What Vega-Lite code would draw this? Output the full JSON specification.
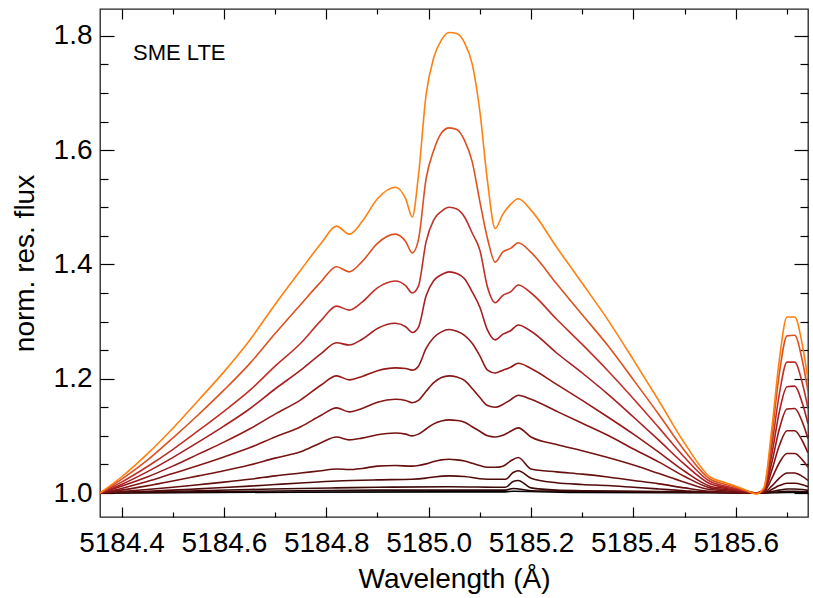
{
"$schema":"https://vega.github.io/schema/vega-lite/v6.json",
"width":708,"height":508,
"autosize":{"type":"none"},
"padding":{"left":100,"top":9,"right":5,"bottom":81},
"background":"white",
"config":{"view":{"stroke":"#222","strokeWidth":1.3},"font":"Liberation Sans"},
"layer":[
{"data":{"values":[
{"curve":1,"wl":5184.358,"flux":1.000},{"curve":1,"wl":5184.75,"flux":1.0015},{"curve":1,"wl":5185.04,"flux":1.002},{"curve":1,"wl":5185.15,"flux":1.002},{"curve":1,"wl":5185.165,"flux":1.003},{"curve":1,"wl":5185.30,"flux":1.001},{"curve":1,"wl":5185.64,"flux":1.000},{"curve":1,"wl":5185.70,"flux":1.001},{"curve":1,"wl":5185.741,"flux":1.001},
{"curve":2,"wl":5184.358,"flux":1.000},{"curve":2,"wl":5184.55,"flux":1.002},{"curve":2,"wl":5184.75,"flux":1.004},{"curve":2,"wl":5184.90,"flux":1.005},{"curve":2,"wl":5185.04,"flux":1.005},{"curve":2,"wl":5185.15,"flux":1.005},{"curve":2,"wl":5185.165,"flux":1.008},{"curve":2,"wl":5185.20,"flux":1.004},{"curve":2,"wl":5185.30,"flux":1.003},{"curve":2,"wl":5185.45,"flux":1.002},{"curve":2,"wl":5185.60,"flux":1.001},{"curve":2,"wl":5185.64,"flux":1.000},{"curve":2,"wl":5185.67,"flux":1.001},{"curve":2,"wl":5185.685,"flux":1.002},{"curve":2,"wl":5185.70,"flux":1.003},{"curve":2,"wl":5185.715,"flux":1.003},{"curve":2,"wl":5185.741,"flux":1.002},
{"curve":3,"wl":5184.358,"flux":1.000},{"curve":3,"wl":5184.45,"flux":1.002},{"curve":3,"wl":5184.55,"flux":1.004},{"curve":3,"wl":5184.65,"flux":1.006},{"curve":3,"wl":5184.75,"flux":1.008},{"curve":3,"wl":5184.82,"flux":1.009},{"curve":3,"wl":5184.90,"flux":1.010},{"curve":3,"wl":5185.04,"flux":1.011},{"curve":3,"wl":5185.15,"flux":1.010},{"curve":3,"wl":5185.165,"flux":1.020},{"curve":3,"wl":5185.175,"flux":1.022},{"curve":3,"wl":5185.20,"flux":1.009},{"curve":3,"wl":5185.25,"flux":1.005},{"curve":3,"wl":5185.30,"flux":1.004},{"curve":3,"wl":5185.40,"flux":1.003},{"curve":3,"wl":5185.50,"flux":1.002},{"curve":3,"wl":5185.60,"flux":1.001},{"curve":3,"wl":5185.64,"flux":1.000},{"curve":3,"wl":5185.67,"flux":1.0025},{"curve":3,"wl":5185.685,"flux":1.005},{"curve":3,"wl":5185.70,"flux":1.007},{"curve":3,"wl":5185.715,"flux":1.007},{"curve":3,"wl":5185.73,"flux":1.006},{"curve":3,"wl":5185.741,"flux":1.0045},
{"curve":4,"wl":5184.358,"flux":1.000},{"curve":4,"wl":5184.45,"flux":1.003},{"curve":4,"wl":5184.50,"flux":1.005},{"curve":4,"wl":5184.55,"flux":1.0073},{"curve":4,"wl":5184.60,"flux":1.0095},{"curve":4,"wl":5184.65,"flux":1.012},{"curve":4,"wl":5184.70,"flux":1.0148},{"curve":4,"wl":5184.75,"flux":1.0175},{"curve":4,"wl":5184.82,"flux":1.021},{"curve":4,"wl":5184.90,"flux":1.023},{"curve":4,"wl":5184.968,"flux":1.024},{"curve":4,"wl":5184.995,"flux":1.026},{"curve":4,"wl":5185.01,"flux":1.028},{"curve":4,"wl":5185.04,"flux":1.030},{"curve":4,"wl":5185.07,"flux":1.029},{"curve":4,"wl":5185.10,"flux":1.025},{"curve":4,"wl":5185.13,"flux":1.024},{"curve":4,"wl":5185.15,"flux":1.024},{"curve":4,"wl":5185.165,"flux":1.036},{"curve":4,"wl":5185.175,"flux":1.039},{"curve":4,"wl":5185.20,"flux":1.026},{"curve":4,"wl":5185.25,"flux":1.018},{"curve":4,"wl":5185.30,"flux":1.015},{"curve":4,"wl":5185.35,"flux":1.013},{"curve":4,"wl":5185.40,"flux":1.010},{"curve":4,"wl":5185.45,"flux":1.007},{"curve":4,"wl":5185.50,"flux":1.004},{"curve":4,"wl":5185.55,"flux":1.0015},{"curve":4,"wl":5185.64,"flux":1.000},{"curve":4,"wl":5185.655,"flux":1.0005},{"curve":4,"wl":5185.67,"flux":1.006},{"curve":4,"wl":5185.685,"flux":1.013},{"curve":4,"wl":5185.70,"flux":1.017},{"curve":4,"wl":5185.715,"flux":1.017},{"curve":4,"wl":5185.73,"flux":1.0145},{"curve":4,"wl":5185.741,"flux":1.011},
{"curve":5,"wl":5184.358,"flux":1.000},{"curve":5,"wl":5184.40,"flux":1.0025},{"curve":5,"wl":5184.45,"flux":1.006},{"curve":5,"wl":5184.50,"flux":1.010},{"curve":5,"wl":5184.55,"flux":1.0145},{"curve":5,"wl":5184.60,"flux":1.019},{"curve":5,"wl":5184.65,"flux":1.024},{"curve":5,"wl":5184.70,"flux":1.030},{"curve":5,"wl":5184.75,"flux":1.035},{"curve":5,"wl":5184.79,"flux":1.039},{"curve":5,"wl":5184.82,"flux":1.042},{"curve":5,"wl":5184.845,"flux":1.041},{"curve":5,"wl":5184.87,"flux":1.043},{"curve":5,"wl":5184.90,"flux":1.047},{"curve":5,"wl":5184.935,"flux":1.048},{"curve":5,"wl":5184.968,"flux":1.047},{"curve":5,"wl":5184.98,"flux":1.048},{"curve":5,"wl":5184.995,"flux":1.051},{"curve":5,"wl":5185.01,"flux":1.055},{"curve":5,"wl":5185.025,"flux":1.058},{"curve":5,"wl":5185.04,"flux":1.059},{"curve":5,"wl":5185.055,"flux":1.058},{"curve":5,"wl":5185.07,"flux":1.056},{"curve":5,"wl":5185.085,"flux":1.052},{"curve":5,"wl":5185.10,"flux":1.048},{"curve":5,"wl":5185.115,"flux":1.045},{"curve":5,"wl":5185.13,"flux":1.045},{"curve":5,"wl":5185.145,"flux":1.047},{"curve":5,"wl":5185.16,"flux":1.056},{"curve":5,"wl":5185.175,"flux":1.062},{"curve":5,"wl":5185.20,"flux":1.042},{"curve":5,"wl":5185.25,"flux":1.037},{"curve":5,"wl":5185.30,"flux":1.033},{"curve":5,"wl":5185.35,"flux":1.028},{"curve":5,"wl":5185.40,"flux":1.022},{"curve":5,"wl":5185.45,"flux":1.016},{"curve":5,"wl":5185.50,"flux":1.009},{"curve":5,"wl":5185.55,"flux":1.003},{"curve":5,"wl":5185.60,"flux":1.001},{"curve":5,"wl":5185.64,"flux":1.000},{"curve":5,"wl":5185.655,"flux":1.001},{"curve":5,"wl":5185.67,"flux":1.012},{"curve":5,"wl":5185.685,"flux":1.026},{"curve":5,"wl":5185.70,"flux":1.035},{"curve":5,"wl":5185.715,"flux":1.035},{"curve":5,"wl":5185.73,"flux":1.029},{"curve":5,"wl":5185.741,"flux":1.022},
{"curve":6,"wl":5184.358,"flux":1.000},{"curve":6,"wl":5184.40,"flux":1.005},{"curve":6,"wl":5184.45,"flux":1.0125},{"curve":6,"wl":5184.50,"flux":1.021},{"curve":6,"wl":5184.55,"flux":1.030},{"curve":6,"wl":5184.60,"flux":1.039},{"curve":6,"wl":5184.65,"flux":1.049},{"curve":6,"wl":5184.70,"flux":1.061},{"curve":6,"wl":5184.75,"flux":1.072},{"curve":6,"wl":5184.79,"flux":1.088},{"curve":6,"wl":5184.82,"flux":1.098},{"curve":6,"wl":5184.845,"flux":1.093},{"curve":6,"wl":5184.87,"flux":1.096},{"curve":6,"wl":5184.90,"flux":1.102},{"curve":6,"wl":5184.935,"flux":1.105},{"curve":6,"wl":5184.955,"flux":1.103},{"curve":6,"wl":5184.968,"flux":1.100},{"curve":6,"wl":5184.98,"flux":1.103},{"curve":6,"wl":5184.995,"flux":1.112},{"curve":6,"wl":5185.01,"flux":1.121},{"curve":6,"wl":5185.025,"flux":1.126},{"curve":6,"wl":5185.04,"flux":1.128},{"curve":6,"wl":5185.055,"flux":1.127},{"curve":6,"wl":5185.07,"flux":1.124},{"curve":6,"wl":5185.085,"flux":1.116},{"curve":6,"wl":5185.10,"flux":1.108},{"curve":6,"wl":5185.115,"flux":1.100},{"curve":6,"wl":5185.13,"flux":1.098},{"curve":6,"wl":5185.145,"flux":1.101},{"curve":6,"wl":5185.16,"flux":1.108},{"curve":6,"wl":5185.175,"flux":1.114},{"curve":6,"wl":5185.20,"flux":1.098},{"curve":6,"wl":5185.25,"flux":1.085},{"curve":6,"wl":5185.30,"flux":1.074},{"curve":6,"wl":5185.35,"flux":1.062},{"curve":6,"wl":5185.40,"flux":1.049},{"curve":6,"wl":5185.45,"flux":1.034},{"curve":6,"wl":5185.50,"flux":1.019},{"curve":6,"wl":5185.55,"flux":1.006},{"curve":6,"wl":5185.58,"flux":1.004},{"curve":6,"wl":5185.60,"flux":1.003},{"curve":6,"wl":5185.62,"flux":1.001},{"curve":6,"wl":5185.64,"flux":1.000},{"curve":6,"wl":5185.655,"flux":1.002},{"curve":6,"wl":5185.67,"flux":1.025},{"curve":6,"wl":5185.685,"flux":1.053},{"curve":6,"wl":5185.70,"flux":1.069},{"curve":6,"wl":5185.715,"flux":1.069},{"curve":6,"wl":5185.73,"flux":1.058},{"curve":6,"wl":5185.741,"flux":1.045},
{"curve":7,"wl":5184.358,"flux":1.000},{"curve":7,"wl":5184.40,"flux":1.008},{"curve":7,"wl":5184.45,"flux":1.020},{"curve":7,"wl":5184.50,"flux":1.034},{"curve":7,"wl":5184.55,"flux":1.048},{"curve":7,"wl":5184.60,"flux":1.063},{"curve":7,"wl":5184.65,"flux":1.079},{"curve":7,"wl":5184.70,"flux":1.098},{"curve":7,"wl":5184.75,"flux":1.116},{"curve":7,"wl":5184.79,"flux":1.136},{"curve":7,"wl":5184.82,"flux":1.149},{"curve":7,"wl":5184.845,"flux":1.142},{"curve":7,"wl":5184.87,"flux":1.148},{"curve":7,"wl":5184.90,"flux":1.159},{"curve":7,"wl":5184.935,"flux":1.164},{"curve":7,"wl":5184.955,"flux":1.162},{"curve":7,"wl":5184.968,"flux":1.158},{"curve":7,"wl":5184.98,"flux":1.162},{"curve":7,"wl":5184.995,"flux":1.178},{"curve":7,"wl":5185.01,"flux":1.193},{"curve":7,"wl":5185.025,"flux":1.202},{"curve":7,"wl":5185.04,"flux":1.205},{"curve":7,"wl":5185.055,"flux":1.203},{"curve":7,"wl":5185.07,"flux":1.197},{"curve":7,"wl":5185.085,"flux":1.183},{"curve":7,"wl":5185.10,"flux":1.167},{"curve":7,"wl":5185.115,"flux":1.153},{"curve":7,"wl":5185.13,"flux":1.150},{"curve":7,"wl":5185.145,"flux":1.155},{"curve":7,"wl":5185.16,"flux":1.163},{"curve":7,"wl":5185.175,"flux":1.171},{"curve":7,"wl":5185.20,"flux":1.164},{"curve":7,"wl":5185.25,"flux":1.143},{"curve":7,"wl":5185.30,"flux":1.122},{"curve":7,"wl":5185.35,"flux":1.101},{"curve":7,"wl":5185.40,"flux":1.077},{"curve":7,"wl":5185.45,"flux":1.054},{"curve":7,"wl":5185.50,"flux":1.029},{"curve":7,"wl":5185.55,"flux":1.009},{"curve":7,"wl":5185.58,"flux":1.006},{"curve":7,"wl":5185.60,"flux":1.004},{"curve":7,"wl":5185.62,"flux":1.002},{"curve":7,"wl":5185.64,"flux":1.000},{"curve":7,"wl":5185.655,"flux":1.003},{"curve":7,"wl":5185.67,"flux":1.039},{"curve":7,"wl":5185.685,"flux":1.083},{"curve":7,"wl":5185.70,"flux":1.109},{"curve":7,"wl":5185.715,"flux":1.109},{"curve":7,"wl":5185.73,"flux":1.091},{"curve":7,"wl":5185.741,"flux":1.070},
{"curve":8,"wl":5184.358,"flux":1.000},{"curve":8,"wl":5184.40,"flux":1.012},{"curve":8,"wl":5184.45,"flux":1.028},{"curve":8,"wl":5184.50,"flux":1.047},{"curve":8,"wl":5184.55,"flux":1.068},{"curve":8,"wl":5184.60,"flux":1.089},{"curve":8,"wl":5184.65,"flux":1.112},{"curve":8,"wl":5184.70,"flux":1.138},{"curve":8,"wl":5184.75,"flux":1.163},{"curve":8,"wl":5184.79,"flux":1.189},{"curve":8,"wl":5184.82,"flux":1.205},{"curve":8,"wl":5184.845,"flux":1.198},{"curve":8,"wl":5184.87,"flux":1.204},{"curve":8,"wl":5184.90,"flux":1.214},{"curve":8,"wl":5184.935,"flux":1.219},{"curve":8,"wl":5184.955,"flux":1.218},{"curve":8,"wl":5184.968,"flux":1.215},{"curve":8,"wl":5184.98,"flux":1.222},{"curve":8,"wl":5184.995,"flux":1.253},{"curve":8,"wl":5185.01,"flux":1.272},{"curve":8,"wl":5185.025,"flux":1.282},{"curve":8,"wl":5185.04,"flux":1.286},{"curve":8,"wl":5185.055,"flux":1.283},{"curve":8,"wl":5185.07,"flux":1.276},{"curve":8,"wl":5185.085,"flux":1.262},{"curve":8,"wl":5185.10,"flux":1.240},{"curve":8,"wl":5185.115,"flux":1.215},{"curve":8,"wl":5185.13,"flux":1.210},{"curve":8,"wl":5185.145,"flux":1.215},{"curve":8,"wl":5185.16,"flux":1.220},{"curve":8,"wl":5185.175,"flux":1.227},{"curve":8,"wl":5185.20,"flux":1.218},{"curve":8,"wl":5185.25,"flux":1.190},{"curve":8,"wl":5185.30,"flux":1.162},{"curve":8,"wl":5185.35,"flux":1.133},{"curve":8,"wl":5185.40,"flux":1.103},{"curve":8,"wl":5185.45,"flux":1.071},{"curve":8,"wl":5185.50,"flux":1.038},{"curve":8,"wl":5185.55,"flux":1.012},{"curve":8,"wl":5185.58,"flux":1.008},{"curve":8,"wl":5185.60,"flux":1.005},{"curve":8,"wl":5185.62,"flux":1.002},{"curve":8,"wl":5185.64,"flux":1.000},{"curve":8,"wl":5185.655,"flux":1.004},{"curve":8,"wl":5185.67,"flux":1.052},{"curve":8,"wl":5185.685,"flux":1.112},{"curve":8,"wl":5185.70,"flux":1.147},{"curve":8,"wl":5185.715,"flux":1.148},{"curve":8,"wl":5185.73,"flux":1.124},{"curve":8,"wl":5185.741,"flux":1.095},
{"curve":9,"wl":5184.358,"flux":1.000},{"curve":9,"wl":5184.40,"flux":1.015},{"curve":9,"wl":5184.45,"flux":1.037},{"curve":9,"wl":5184.50,"flux":1.062},{"curve":9,"wl":5184.55,"flux":1.089},{"curve":9,"wl":5184.60,"flux":1.117},{"curve":9,"wl":5184.65,"flux":1.147},{"curve":9,"wl":5184.70,"flux":1.182},{"curve":9,"wl":5184.75,"flux":1.215},{"curve":9,"wl":5184.79,"flux":1.244},{"curve":9,"wl":5184.82,"flux":1.263},{"curve":9,"wl":5184.845,"flux":1.259},{"curve":9,"wl":5184.87,"flux":1.269},{"curve":9,"wl":5184.90,"flux":1.288},{"curve":9,"wl":5184.935,"flux":1.297},{"curve":9,"wl":5184.955,"flux":1.291},{"curve":9,"wl":5184.968,"flux":1.281},{"curve":9,"wl":5184.98,"flux":1.290},{"curve":9,"wl":5184.995,"flux":1.345},{"curve":9,"wl":5185.01,"flux":1.372},{"curve":9,"wl":5185.025,"flux":1.382},{"curve":9,"wl":5185.04,"flux":1.387},{"curve":9,"wl":5185.055,"flux":1.384},{"curve":9,"wl":5185.07,"flux":1.375},{"curve":9,"wl":5185.085,"flux":1.352},{"curve":9,"wl":5185.10,"flux":1.325},{"curve":9,"wl":5185.115,"flux":1.285},{"curve":9,"wl":5185.13,"flux":1.268},{"curve":9,"wl":5185.145,"flux":1.278},{"curve":9,"wl":5185.16,"flux":1.284},{"curve":9,"wl":5185.175,"flux":1.294},{"curve":9,"wl":5185.20,"flux":1.283},{"curve":9,"wl":5185.25,"flux":1.245},{"curve":9,"wl":5185.30,"flux":1.210},{"curve":9,"wl":5185.35,"flux":1.173},{"curve":9,"wl":5185.40,"flux":1.133},{"curve":9,"wl":5185.45,"flux":1.092},{"curve":9,"wl":5185.50,"flux":1.050},{"curve":9,"wl":5185.55,"flux":1.016},{"curve":9,"wl":5185.58,"flux":1.010},{"curve":9,"wl":5185.60,"flux":1.007},{"curve":9,"wl":5185.62,"flux":1.003},{"curve":9,"wl":5185.64,"flux":1.000},{"curve":9,"wl":5185.655,"flux":1.006},{"curve":9,"wl":5185.67,"flux":1.066},{"curve":9,"wl":5185.685,"flux":1.142},{"curve":9,"wl":5185.70,"flux":1.186},{"curve":9,"wl":5185.715,"flux":1.187},{"curve":9,"wl":5185.73,"flux":1.157},{"curve":9,"wl":5185.741,"flux":1.121},
{"curve":10,"wl":5184.358,"flux":1.000},{"curve":10,"wl":5184.40,"flux":1.019},{"curve":10,"wl":5184.45,"flux":1.046},{"curve":10,"wl":5184.50,"flux":1.076},{"curve":10,"wl":5184.55,"flux":1.109},{"curve":10,"wl":5184.60,"flux":1.143},{"curve":10,"wl":5184.65,"flux":1.179},{"curve":10,"wl":5184.70,"flux":1.222},{"curve":10,"wl":5184.75,"flux":1.262},{"curve":10,"wl":5184.79,"flux":1.302},{"curve":10,"wl":5184.82,"flux":1.327},{"curve":10,"wl":5184.845,"flux":1.320},{"curve":10,"wl":5184.87,"flux":1.334},{"curve":10,"wl":5184.90,"flux":1.359},{"curve":10,"wl":5184.935,"flux":1.371},{"curve":10,"wl":5184.955,"flux":1.363},{"curve":10,"wl":5184.968,"flux":1.350},{"curve":10,"wl":5184.98,"flux":1.362},{"curve":10,"wl":5184.995,"flux":1.440},{"curve":10,"wl":5185.01,"flux":1.478},{"curve":10,"wl":5185.025,"flux":1.493},{"curve":10,"wl":5185.04,"flux":1.500},{"curve":10,"wl":5185.055,"flux":1.497},{"curve":10,"wl":5185.07,"flux":1.483},{"curve":10,"wl":5185.085,"flux":1.455},{"curve":10,"wl":5185.10,"flux":1.425},{"curve":10,"wl":5185.115,"flux":1.360},{"curve":10,"wl":5185.13,"flux":1.333},{"curve":10,"wl":5185.145,"flux":1.346},{"curve":10,"wl":5185.16,"flux":1.352},{"curve":10,"wl":5185.175,"flux":1.364},{"curve":10,"wl":5185.20,"flux":1.350},{"curve":10,"wl":5185.25,"flux":1.304},{"curve":10,"wl":5185.30,"flux":1.260},{"curve":10,"wl":5185.35,"flux":1.214},{"curve":10,"wl":5185.40,"flux":1.165},{"curve":10,"wl":5185.45,"flux":1.114},{"curve":10,"wl":5185.50,"flux":1.062},{"curve":10,"wl":5185.55,"flux":1.020},{"curve":10,"wl":5185.58,"flux":1.012},{"curve":10,"wl":5185.60,"flux":1.008},{"curve":10,"wl":5185.62,"flux":1.004},{"curve":10,"wl":5185.64,"flux":1.000},{"curve":10,"wl":5185.655,"flux":1.007},{"curve":10,"wl":5185.67,"flux":1.081},{"curve":10,"wl":5185.685,"flux":1.173},{"curve":10,"wl":5185.70,"flux":1.229},{"curve":10,"wl":5185.715,"flux":1.229},{"curve":10,"wl":5185.73,"flux":1.192},{"curve":10,"wl":5185.741,"flux":1.148},
{"curve":11,"wl":5184.358,"flux":1.000},{"curve":11,"wl":5184.40,"flux":1.024},{"curve":11,"wl":5184.45,"flux":1.057},{"curve":11,"wl":5184.50,"flux":1.096},{"curve":11,"wl":5184.55,"flux":1.137},{"curve":11,"wl":5184.60,"flux":1.180},{"curve":11,"wl":5184.65,"flux":1.226},{"curve":11,"wl":5184.70,"flux":1.279},{"curve":11,"wl":5184.75,"flux":1.330},{"curve":11,"wl":5184.79,"flux":1.370},{"curve":11,"wl":5184.82,"flux":1.396},{"curve":11,"wl":5184.845,"flux":1.387},{"curve":11,"wl":5184.87,"flux":1.405},{"curve":11,"wl":5184.90,"flux":1.437},{"curve":11,"wl":5184.935,"flux":1.453},{"curve":11,"wl":5184.955,"flux":1.440},{"curve":11,"wl":5184.968,"flux":1.420},{"curve":11,"wl":5184.98,"flux":1.443},{"curve":11,"wl":5184.995,"flux":1.550},{"curve":11,"wl":5185.01,"flux":1.600},{"curve":11,"wl":5185.025,"flux":1.630},{"curve":11,"wl":5185.04,"flux":1.639},{"curve":11,"wl":5185.055,"flux":1.636},{"curve":11,"wl":5185.07,"flux":1.617},{"curve":11,"wl":5185.085,"flux":1.580},{"curve":11,"wl":5185.10,"flux":1.510},{"curve":11,"wl":5185.115,"flux":1.445},{"curve":11,"wl":5185.13,"flux":1.404},{"curve":11,"wl":5185.145,"flux":1.422},{"curve":11,"wl":5185.16,"flux":1.428},{"curve":11,"wl":5185.175,"flux":1.438},{"curve":11,"wl":5185.20,"flux":1.421},{"curve":11,"wl":5185.25,"flux":1.366},{"curve":11,"wl":5185.30,"flux":1.312},{"curve":11,"wl":5185.35,"flux":1.258},{"curve":11,"wl":5185.40,"flux":1.198},{"curve":11,"wl":5185.45,"flux":1.137},{"curve":11,"wl":5185.50,"flux":1.074},{"curve":11,"wl":5185.55,"flux":1.024},{"curve":11,"wl":5185.58,"flux":1.015},{"curve":11,"wl":5185.60,"flux":1.010},{"curve":11,"wl":5185.62,"flux":1.004},{"curve":11,"wl":5185.64,"flux":0.999},{"curve":11,"wl":5185.655,"flux":1.008},{"curve":11,"wl":5185.67,"flux":1.097},{"curve":11,"wl":5185.685,"flux":1.209},{"curve":11,"wl":5185.70,"flux":1.275},{"curve":11,"wl":5185.715,"flux":1.276},{"curve":11,"wl":5185.73,"flux":1.231},{"curve":11,"wl":5185.741,"flux":1.178},
{"curve":12,"wl":5184.358,"flux":1.000},{"curve":12,"wl":5184.40,"flux":1.028},{"curve":12,"wl":5184.45,"flux":1.068},{"curve":12,"wl":5184.50,"flux":1.113},{"curve":12,"wl":5184.55,"flux":1.162},{"curve":12,"wl":5184.60,"flux":1.212},{"curve":12,"wl":5184.65,"flux":1.267},{"curve":12,"wl":5184.70,"flux":1.330},{"curve":12,"wl":5184.75,"flux":1.390},{"curve":12,"wl":5184.79,"flux":1.437},{"curve":12,"wl":5184.82,"flux":1.467},{"curve":12,"wl":5184.845,"flux":1.453},{"curve":12,"wl":5184.87,"flux":1.475},{"curve":12,"wl":5184.90,"flux":1.515},{"curve":12,"wl":5184.935,"flux":1.535},{"curve":12,"wl":5184.955,"flux":1.515},{"curve":12,"wl":5184.968,"flux":1.483},{"curve":12,"wl":5184.98,"flux":1.555},{"curve":12,"wl":5184.995,"flux":1.697},{"curve":12,"wl":5185.01,"flux":1.762},{"curve":12,"wl":5185.025,"flux":1.793},{"curve":12,"wl":5185.04,"flux":1.806},{"curve":12,"wl":5185.055,"flux":1.804},{"curve":12,"wl":5185.07,"flux":1.788},{"curve":12,"wl":5185.085,"flux":1.751},{"curve":12,"wl":5185.10,"flux":1.668},{"curve":12,"wl":5185.115,"flux":1.545},{"curve":12,"wl":5185.13,"flux":1.463},{"curve":12,"wl":5185.145,"flux":1.488},{"curve":12,"wl":5185.16,"flux":1.505},{"curve":12,"wl":5185.175,"flux":1.515},{"curve":12,"wl":5185.20,"flux":1.495},{"curve":12,"wl":5185.25,"flux":1.430},{"curve":12,"wl":5185.30,"flux":1.367},{"curve":12,"wl":5185.35,"flux":1.303},{"curve":12,"wl":5185.40,"flux":1.233},{"curve":12,"wl":5185.45,"flux":1.161},{"curve":12,"wl":5185.50,"flux":1.087},{"curve":12,"wl":5185.55,"flux":1.028},{"curve":12,"wl":5185.58,"flux":1.018},{"curve":12,"wl":5185.60,"flux":1.012},{"curve":12,"wl":5185.62,"flux":1.005},{"curve":12,"wl":5185.64,"flux":0.998},{"curve":12,"wl":5185.655,"flux":1.010},{"curve":12,"wl":5185.67,"flux":1.110},{"curve":12,"wl":5185.685,"flux":1.233},{"curve":12,"wl":5185.70,"flux":1.308},{"curve":12,"wl":5185.715,"flux":1.308},{"curve":12,"wl":5185.73,"flux":1.259},{"curve":12,"wl":5185.741,"flux":1.198}
]},
"mark":{"type":"line","interpolate":"monotone","strokeWidth":1.6,"clip":true},
"encoding":{
"x":{"field":"wl","type":"quantitative","scale":{"domain":[5184.358,5185.741],"nice":false,"zero":false},
"axis":{"orient":"bottom","domain":false,"grid":false,"tickValues":[5184.4,5184.45,5184.5,5184.55,5184.6,5184.65,5184.7,5184.75,5184.8,5184.85,5184.9,5184.95,5185.0,5185.05,5185.1,5185.15,5185.2,5185.25,5185.3,5185.35,5185.4,5185.45,5185.5,5185.55,5185.6,5185.65,5185.7],
"labelExpr":"round(datum.value*20)%4==0 ? format(datum.value,'.1f') : ''",
"tickSize":{"condition":{"test":"round(datum.value*20)%4==0","value":-10},"value":-5},
"tickColor":"#000","tickWidth":1.2,"labelFontSize":28,"labelColor":"#000","labelPadding":22,"labelOverlap":false,"labelFlush":false,"labelBound":false,
"title":"Wavelength (Å)","titleFontSize":28,"titleFontWeight":"normal","titleColor":"#000","titlePadding":3}},
"y":{"field":"flux","type":"quantitative","scale":{"domain":[0.958,1.847],"nice":false,"zero":false},
"axis":{"orient":"left","domain":false,"grid":false,"tickValues":[1.0,1.05,1.1,1.15,1.2,1.25,1.3,1.35,1.4,1.45,1.5,1.55,1.6,1.65,1.7,1.75,1.8],
"labelExpr":"round(datum.value*20)%4==0 ? format(datum.value,'.1f') : ''",
"tickSize":{"condition":{"test":"round(datum.value*20)%4==0","value":-14},"value":-8},
"tickColor":"#000","tickWidth":1.2,"labelFontSize":28,"labelColor":"#000","labelPadding":22,"labelOverlap":false,"labelFlush":false,"labelBound":false,
"title":"norm. res. flux","titleFontSize":28,"titleFontWeight":"normal","titleColor":"#000","titlePadding":14}},
"color":{"field":"curve","type":"ordinal","legend":null,"scale":{"domain":[1,2,3,4,5,6,7,8,9,10,11,12],"range":["#000000","#2a0505","#3d0808","#520b0b","#650f0f","#761313","#861616","#961a1a","#a81e22","#c0302a","#dd5020","#ff8010"]}}
}},
{"data":{"values":[{}]},
"mark":{"type":"text","align":"left","baseline":"alphabetic","fontSize":22,"font":"Liberation Sans","color":"#000"},
"encoding":{
"x":{"datum":5184.4225,"type":"quantitative","axis":{"orient":"top","domain":false,"grid":false,"labels":false,"title":null,"tickValues":[5184.4,5184.45,5184.5,5184.55,5184.6,5184.65,5184.7,5184.75,5184.8,5184.85,5184.9,5184.95,5185.0,5185.05,5185.1,5185.15,5185.2,5185.25,5185.3,5185.35,5185.4,5185.45,5185.5,5185.55,5185.6,5185.65,5185.7],"tickSize":{"condition":{"test":"round(datum.value*20)%4==0","value":-10},"value":-5},"tickColor":"#000","tickWidth":1.2}},
"y":{"datum":1.7577,"type":"quantitative","axis":{"orient":"right","domain":false,"grid":false,"labels":false,"title":null,"tickValues":[1.0,1.05,1.1,1.15,1.2,1.25,1.3,1.35,1.4,1.45,1.5,1.55,1.6,1.65,1.7,1.75,1.8],"tickSize":{"condition":{"test":"round(datum.value*20)%4==0","value":-14},"value":-8},"tickColor":"#000","tickWidth":1.2}},
"text":{"value":"SME LTE"}
}}
],
"resolve":{"axis":{"x":"independent","y":"independent"}}
}
